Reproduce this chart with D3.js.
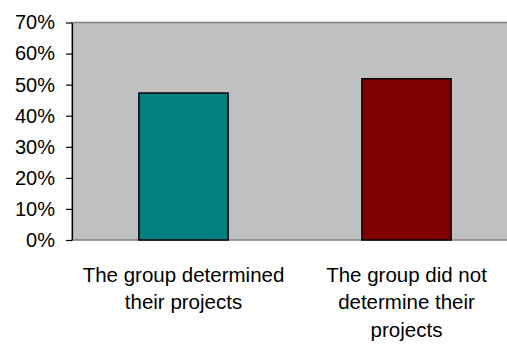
<!DOCTYPE html>
<html>
<head>
<meta charset="utf-8">
<script src="https://cdn.jsdelivr.net/npm/d3@7"></script>
<style>
  html, body { margin: 0; padding: 0; background: #ffffff; }
  svg { display: block; font-family: Arial, "Liberation Sans", sans-serif; }
</style>
</head>
<body>
<svg id="chart" width="507" height="345"></svg>
<script>
// Share of groups by whether they chose their own projects
const categories = ["The group determined their projects", "The group did not determine their projects"];
const labelLines = [["The group determined", "their projects"], ["The group did not", "determine their", "projects"]];
const values = [47.3, 51.9];
const barColors = ["#008080", "#800000"];
const yTicks = [0, 10, 20, 30, 40, 50, 60, 70];

const svg = d3.select("#chart");
const plot = { left: 72, right: 518, top: 22.5, bottom: 240 };

const x = d3.scaleBand()
  .domain(categories)
  .range([plot.left, plot.right])
  .paddingInner(0.6)
  .paddingOuter(0.3);

const y = d3.scaleLinear()
  .domain([0, 70])
  .range([plot.bottom, plot.top]);

// plot area
svg.append("rect")
  .attr("x", plot.left)
  .attr("y", plot.top)
  .attr("width", plot.right - plot.left)
  .attr("height", plot.bottom - plot.top)
  .attr("fill", "#c0c0c0")
  .attr("stroke", "#808080")
  .attr("stroke-width", 1.5);

// bars
svg.selectAll("rect.bar")
  .data(values)
  .join("rect")
  .attr("class", "bar")
  .attr("x", (d, i) => x(categories[i]))
  .attr("y", d => y(d))
  .attr("width", x.bandwidth())
  .attr("height", d => y(0) - y(d))
  .attr("fill", (d, i) => barColors[i])
  .attr("stroke", "#000")
  .attr("stroke-width", 1.5);

// y axis
const yAxis = d3.axisLeft(y)
  .tickValues(yTicks)
  .tickFormat(d => d + "%")
  .tickSizeInner(6)
  .tickSizeOuter(0)
  .tickPadding(11);

const ga = svg.append("g")
  .attr("transform", `translate(${plot.left},0)`)
  .call(yAxis);
ga.select(".domain").attr("stroke", "#000").attr("stroke-width", 1.2);
ga.selectAll(".tick line").attr("stroke", "#000").attr("stroke-width", 1.2);
ga.selectAll(".tick text")
  .attr("fill", "#000")
  .style("font-size", "20px")
  .style("font-family", "Arial, 'Liberation Sans', sans-serif");

// category labels
const lab = svg.append("g").attr("class", "x-labels");
categories.forEach((c, i) => {
  const cx = x(c) + x.bandwidth() / 2;
  const t = lab.append("text")
    .attr("x", cx)
    .attr("y", 281.5)
    .attr("text-anchor", "middle")
    .attr("fill", "#000")
    .style("font-size", "20.5px");
  labelLines[i].forEach((line, j) => {
    t.append("tspan")
      .attr("x", cx)
      .attr("dy", j === 0 ? 0 : 27.5)
      .text(line);
  });
});
</script>
</body>
</html>
